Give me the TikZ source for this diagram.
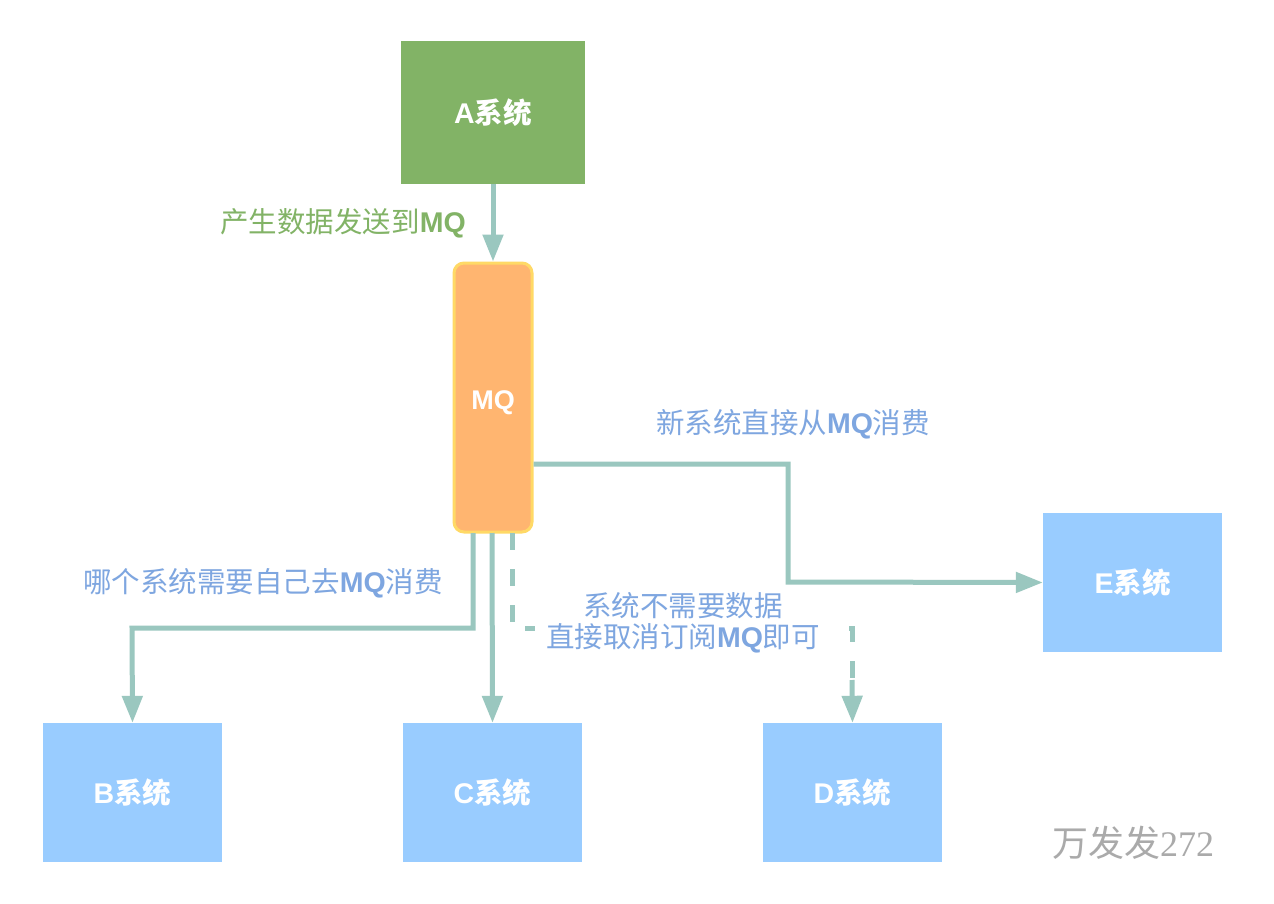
\documentclass[tikz,border=0pt]{standalone}
\usepackage{fontspec}
\setmainfont{Liberation Sans}
\newfontfamily\cjk{Noto Sans CJK SC}
\newfontfamily\wmdigits{Liberation Serif}
\usetikzlibrary{arrows.meta}
\definecolor{agreen}{HTML}{82B366}
\definecolor{mqfill}{HTML}{FFB570}
\definecolor{mqline}{HTML}{FFD966}
\definecolor{sysblue}{HTML}{99CCFF}
\definecolor{conn}{HTML}{9AC7BF}
\definecolor{lblue}{HTML}{7EA6E0}
\definecolor{wmgray}{HTML}{AAAAAA}
\begin{document}
\begin{tikzpicture}[x=1pt,y=-1pt,
  sysbox/.style={draw=none,minimum width=179pt,minimum height=139pt,inner sep=0pt,text=white,font=\fontsize{28.5}{32}\selectfont\bfseries},
  conline/.style={draw=conn,line width=5pt},
  tip/.style={-{Triangle[length=27pt,width=20pt]}},
  lbl/.style={font=\fontsize{28.5}{31}\selectfont,inner sep=1pt},
]
\useasboundingbox (0,0) rectangle (1274,904);
\fill[white] (0,0) rectangle (1274,904);
\node[sysbox,fill=agreen,minimum width=184pt,minimum height=143pt] (A) at (493,112.5) {A{\cjk\bfseries 系统}};
\node[draw=mqline,fill=mqfill,line width=3pt,rounded corners=10pt,minimum width=78pt,minimum height=269pt,inner sep=0pt,
  label={[text=white,font=\fontsize{27}{30}\selectfont\bfseries,yshift=-5pt]center:MQ}] (MQ) at (493,397.5) {};
\node[sysbox,fill=sysblue] (E) at (1132.5,582.5) {E{\cjk\bfseries 系统}};
\node[sysbox,fill=sysblue] (B) at (132.5,792.5) {B{\cjk\bfseries 系统}};
\node[sysbox,fill=sysblue] (C) at (492.5,792.5) {C{\cjk\bfseries 系统}};
\node[sysbox,fill=sysblue] (D) at (852.5,792.5) {D{\cjk\bfseries 系统}};
% connectors
\draw[conline,tip] (A.south) -- (MQ.north);
\draw[conline,tip] (MQ.east |- 0,464) -- (788,464) -- (788,582) -- (E.west);
\draw[conline,tip] (473,533) -- (473,628) -- (132,628) -- (B.north);
\draw[conline,tip] (492,533) -- (C.north);
\draw[conline,dash pattern=on 17pt off 19pt] (512,533) -- (512,628) -- (852,628) -- (852,680);
\draw[conline,tip] (852,680) -- (D.north);
% labels
\fill[white] (535,590) rectangle (847,657);
\node[lbl,text=agreen] (l1) at (343,223) {{\cjk 产生数据发送到}\textbf{MQ}};
\node[lbl,text=lblue] (l2) at (793,424) {{\cjk 新系统直接从}\textbf{MQ}{\cjk 消费}};
\node[lbl,text=lblue] (l3) at (263,583) {{\cjk 哪个系统需要自己去}\textbf{MQ}{\cjk 消费}};
\node[lbl,text=lblue,align=center] (l4) at (683,623) {{\cjk 系统不需要数据}\\{\cjk 直接取消订阅}\textbf{MQ}{\cjk 即可}};
\node[text=wmgray,font=\fontsize{36}{40}\selectfont,inner sep=0pt] (wm) at (1133,843) {{\cjk 万发发}{\wmdigits 272}};
\end{tikzpicture}
\end{document}
